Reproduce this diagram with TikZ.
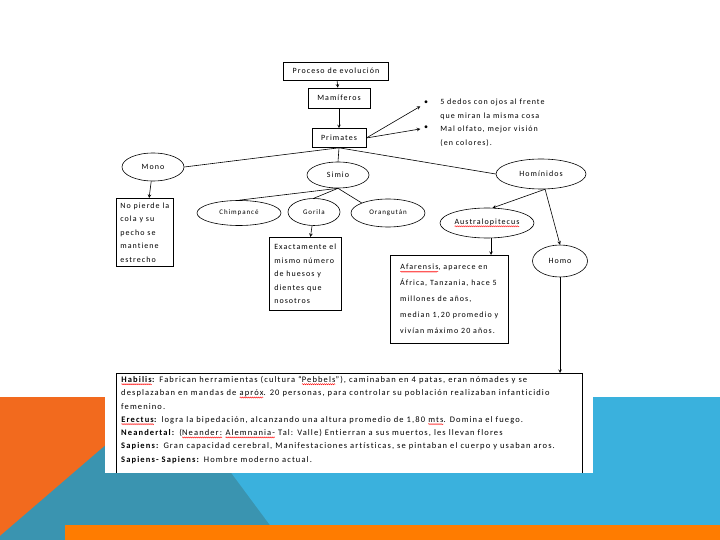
\documentclass[tikz,border=0pt]{standalone}
\usepackage{fontspec}
\setmainfont{Carlito}[LetterSpace=13, Ligatures=NoCommon]
\usepackage{tikz}
\usetikzlibrary{shapes.geometric,decorations.pathmorphing}

\definecolor{naranja}{HTML}{F26A1E}
\definecolor{naranjo}{HTML}{FF7C00}
\definecolor{azuloscuro}{HTML}{3A94B0}
\definecolor{celeste}{HTML}{3AB1DD}

% subrayado ondulado rojo del corrector
\newcommand\spell[1]{\tikz[baseline=(w.base)]{\node[shape=rectangle, draw=none, inner sep=0pt,
    outer sep=0pt, minimum width=0pt, minimum height=0pt, text width=, font=] (w) {#1};
  \draw[red, line width=0.4pt, decorate, decoration={snake, amplitude=0.6pt, segment length=2pt}]
    ([yshift=-1.8pt]w.base west) -- ([yshift=-1.8pt]w.base east);}}

\begin{document}
\begin{tikzpicture}[x=1pt, y=-1pt, >=stealth, line width=0.6pt,
  font=\fontsize{8}{10}\selectfont,
  caja/.style={draw, rectangle, inner sep=0pt},
  elipse/.style={draw, ellipse, inner sep=0pt},
  nota/.style={draw, rectangle, anchor=north west, align=left, inner sep=0pt,
    font=\fontsize{8}{13.5}\selectfont}]

\useasboundingbox (0,0) rectangle (720,540);

% fondo
\fill[naranja] (0,397) -- (110,397) -- (110,540) -- (0,540) -- cycle;
\fill[azuloscuro] (0,536) -- (165,394) -- (300,394) -- (300,540) -- (0,540) -- cycle;
\fill[celeste] (175,397) -- (720,397) -- (720,540) -- (281,540) -- cycle;
\fill[naranjo] (65,525) rectangle (720,540);
\fill[white] (105,370) rectangle (593,473);
\coordinate (borde) at (116,373);
\draw (116,473) -- (borde) -- (582,373) -- (582,473);

\node (proceso) at (336,71) [caja, minimum width=105, minimum height=18] {Proceso de evolución};
\node (mamiferos) at (339,98) [caja, minimum width=62, minimum height=20] {Mamíferos};
\node (primates) at (339,138) [caja, minimum width=54, minimum height=19] {Primates};

\node (b1) at (426,103) {•};
\node (b2) at (426,128) {•};
\node (t1) at (440,99) [anchor=north west, inner sep=0pt, align=left,
  font=\fontsize{8}{14}\selectfont] {5 dedos con ojos al frente\\que miran la misma cosa};
\node (t2) at (440,126) [anchor=north west, inner sep=0pt, align=left,
  font=\fontsize{8}{14}\selectfont] {Mal olfato, mejor visión\\(en colores).};

\node (mono) at (153,167) [elipse, minimum width=62, minimum height=28] {Mono};
\node (simio) at (338,175) [elipse, minimum width=62, minimum height=26] {Simio};
\node (hominidos) at (541,174) [elipse, minimum width=90, minimum height=30] {Homínidos};

\node (chimpance) at (239,213) [elipse, minimum width=84, minimum height=25, font=\fontsize{7}{8}\selectfont] {Chimpancé};
\node (gorila) at (314,212) [elipse, minimum width=52, minimum height=27, font=\fontsize{7}{8}\selectfont] {Gorila};
\node (orangutan) at (388,213) [elipse, minimum width=74, minimum height=28, font=\fontsize{7}{8}\selectfont] {Orangután};

\node (australo) at (487,223) [elipse, minimum width=94, minimum height=30] {\spell{Australopitecus}};
\node (homo) at (560,261) [elipse, minimum width=55, minimum height=32] {Homo};

\node (notamono) at (116,198) [nota, minimum width=57, minimum height=68]
  {No pierde la\\cola y su\\pecho se\\mantiene\\estrecho};
\node (notagorila) at (269,237) [nota, minimum width=72, minimum height=73]
  {Exactamente el\\mismo número\\de huesos y\\dientes que\\nosotros};
\node (notaafar) at (390,255) [nota, minimum width=118, minimum height=88,
  font=\fontsize{8}{16}\selectfont]
  {\spell{Afarensis}, aparece en\\África, Tanzania, hace 5\\millones de años,\\median 1,20 promedio y\\vivían máximo 20 años.};

\node (notas) at (121,376) [anchor=north west, inner sep=0pt, align=left,
  font=\fontsize{8.5}{13.3}\selectfont]
  {\textbf{\spell{Habilis}:} Fabrican herramientas (cultura “\spell{Pebbels}”), caminaban en 4 patas, eran nómades y se\\
   desplazaban en mandas de \spell{apróx}. 20 personas, para controlar su población realizaban infanticidio\\
   femenino.\\
   \textbf{\spell{Erectus}:} logra la bipedación, alcanzando una altura promedio de 1,80 \spell{mts}. Domina el fuego.\\
   \textbf{Neandertal:} (\spell{Neander:} \spell{Alemnania-} Tal: Valle) Entierran a sus muertos, les llevan flores\\
   \textbf{Sapiens:} Gran capacidad cerebral, Manifestaciones artísticas, se pintaban el cuerpo y usaban aros.\\
   \textbf{Sapiens- Sapiens:} Hombre moderno actual.};

\draw [->] (proceso) -- (mamiferos);
\draw [->] (mamiferos) -- (primates);
\draw [->] (primates.east) -- (b1);
\draw [->] (primates.east) -- (b2);

\draw (primates.south) -- (mono.east);
\draw (primates.south) -- (simio.north);
\draw (primates.south) -- (hominidos.west);

\draw (simio.south) -- (chimpance.north);
\draw (simio.south) -- (gorila.north);
\draw (simio.south) -- (orangutan.north west);

\draw [->] (mono) -- (notamono);
\draw [->] (gorila) -- (notagorila);

\draw [->] (hominidos.-75) -- (australo.70);
\draw [->] (hominidos.-75) -- (homo.north);
\draw [->] (australo.-75) -- (australo.-75 |- notaafar.north);
\draw [->] (homo.south) -- (homo.south |- borde);

\end{tikzpicture}
\end{document}
